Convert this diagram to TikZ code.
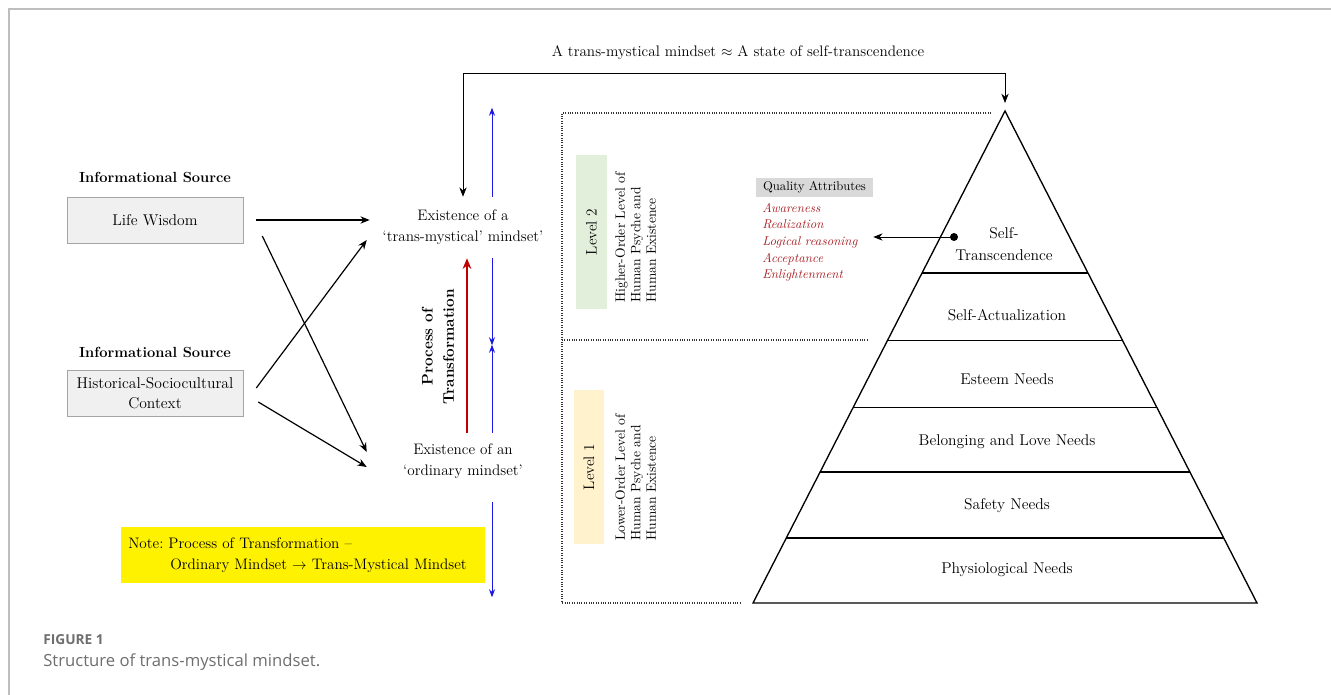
\documentclass[tikz,border=0pt]{standalone}
\usepackage{fontspec}
\newfontfamily\capfont{Open Sans}
\usepackage{tikz}
\usetikzlibrary{arrows.meta}
\usetikzlibrary{calc}
\usetikzlibrary{positioning}
\definecolor{srcgray}{RGB}{240,240,240}
\definecolor{srcline}{RGB}{165,165,165}
\definecolor{lvgreen}{RGB}{226,239,218}
\definecolor{lvyellow}{RGB}{255,242,204}
\definecolor{qagray}{RGB}{217,217,217}
\definecolor{attrred}{RGB}{170,30,35}
\definecolor{trred}{RGB}{192,0,0}
\definecolor{dirblue}{RGB}{25,25,225}
\definecolor{framegray}{RGB}{190,190,190}
\definecolor{capgray}{RGB}{110,110,110}
\tikzset{
  source/.style={draw=srcline, fill=srcgray, minimum width=132pt, minimum height=34.5pt, inner sep=0pt, align=center, font=\fontsize{11.7}{15}\selectfont},
  srctitle/.style={font=\fontsize{11}{13}\selectfont\bfseries},
  mindset/.style={minimum width=139.5pt, minimum height=45pt, inner sep=0pt, align=center, font=\fontsize{11.4}{15.75}\selectfont},
  link/.style={-{Stealth[length=7pt,width=5.5pt]}, line width=0.9pt},
  thinlink/.style={-{Stealth[length=7pt,width=5.5pt]}, line width=0.6pt},
  bluearr/.style={dirblue, -{Stealth[length=6pt,width=4.5pt]}, line width=0.7pt},
  levelbox/.style={rotate=90, minimum width=115.5pt, minimum height=23pt, inner sep=0pt, font=\fontsize{11.4}{13}\selectfont},
  leveltext/.style={rotate=90, anchor=north west, align=left, inner sep=0pt, font=\fontsize{10.2}{11.6}\selectfont},
  layer/.style={align=center, font=\fontsize{11.7}{17}\selectfont},
  dotline/.style={densely dotted, line width=0.8pt, black!80},
}
\begin{document}
\begin{tikzpicture}[x=0.75pt,y=-0.75pt]
  \useasboundingbox (0,0) rectangle (1331,695);
  \draw[framegray, line width=1.5pt] (9,695) -- (9,9) -- (1331,9);

  \node[srctitle] (st1) at (155,177) {Informational Source};
  \node[source] (lw) at (155,220) {Life Wisdom};
  \node[srctitle] (st2) at (155,352) {Informational Source};
  \node[source] (hist) at (155,393) {Historical-Sociocultural\\Context};

  \node[mindset] (tm) at (463,227) {Existence of a\\`trans-mystical' mindset'};
  \node[mindset] (ord) at (463,461) {Existence of an\\`ordinary mindset'};

  \draw[link] ($(lw.east)+(13,0)$) -- (lw.east -| tm.west);
  \draw[link] ($(lw.east)+(19,16)$) -- ($(ord.west)+(-3,-9)$);
  \draw[link] ($(hist.east)+(13,-5)$) -- ($(tm.west)+(-3,13)$);
  \draw[link] ($(hist.east)+(15,9)$) -- ($(ord.west)+(-3,6)$);

  \coordinate (apex) at (1005,111);
  \coordinate (bl) at (753,603);
  \coordinate (br) at (1257,603);
  \draw[{Stealth[length=7pt,width=5.5pt]}-{Stealth[length=7pt,width=5.5pt]}, line width=0.6pt]
    (tm.north) |- ($(apex)+(0,-38)$) -- ($(apex)+(0,-8)$);
  \node[font=\fontsize{11.4}{13}\selectfont] (topnote) at (738,53) {A trans-mystical mindset $\approx$ A state of self-transcendence};

  \draw[bluearr] ($(tm.north)+(29,0)$) -- ++(0,-89);
  \draw[bluearr] ($(tm.south)+(29,1)$) -- ++(0,87);
  \draw[bluearr] ($(ord.north)+(29,2)$) -- ++(0,-88);
  \draw[bluearr] ($(ord.south)+(29,11)$) -- ++(0,95);
  \draw[trred, line width=2pt, -{Stealth[length=8pt,width=6.5pt]}] ($(ord.north)+(4,2)$) -- ($(tm.south)+(4,1)$);
  \node[rotate=90, align=center, font=\fontsize{11.5}{16}\selectfont\bfseries] (proc) at (438,347) {Process of\\Transformation};

  \draw[dotline] (991,113) -- (562,113) -- (562,603) -- (742,603);
  \draw[dotline] (562,340) -- (867,340);
  \node[levelbox, fill=lvgreen] (lv2) at (591.5,232) {Level 2};
  \node[leveltext] (lv2t) at (615,303) {Higher-Order Level of\\Human Psyche and\\Human Existence};
  \node[levelbox, fill=lvyellow] (lv1) at (589,467) {Level 1};
  \node[leveltext] (lv1t) at (615,541) {Lower-Order Level of\\Human Psyche and\\Human Existence};

  \draw[line width=1pt] (apex) -- (bl) -- (br) -- cycle;
  \foreach \t in {0.329,0.467,0.602,0.734,0.868}
    \draw[line width=1pt] ($(apex)!\t!(bl)$) -- ($(apex)!\t!(br)$);
  \node[layer] (st) at (1004,244) {Self-\\Transcendence};
  \node[layer] (sa) at (1007,315) {Self-Actualization};
  \node[layer] (es) at (1007,379) {Esteem Needs};
  \node[layer] (bn) at (1007,442) {Belonging and Love Needs};
  \node[layer] (sf) at (1007,506) {Safety Needs};
  \node[layer] (ph) at (1007,570) {Physiological Needs};

  \node[fill=qagray, minimum width=87.75pt, minimum height=14.25pt, inner sep=0pt, font=\fontsize{9.5}{10}\selectfont] (qa) at (814.5,187.5) {Quality Attributes};
  \node[anchor=north west, align=left, inner sep=0pt, text=attrred, font=\fontsize{9.6}{12.4}\selectfont\itshape] (attr) at (762,203) {Awareness\\Realization\\Logical reasoning\\Acceptance\\Enlightenment};
  \coordinate (dot) at (954,237);
  \fill (dot) circle (4);
  \draw[thinlink] (dot) -- (dot -| qa.east);

  \node[anchor=north west, fill=yellow, text width=262.5pt, minimum height=42pt, inner xsep=5.25pt, inner ysep=4pt, align=left, font=\fontsize{11.4}{16}\selectfont] (note) at (121,527) {Note:\ Process of Transformation --\\\hspace*{31.5pt}Ordinary Mindset $\rightarrow$ Trans-Mystical Mindset};

  \node[anchor=west, inner sep=0pt, text=capgray, font=\capfont\fontsize{10.3}{12}\selectfont\bfseries] (fig) at (43,640) {FIGURE 1};
  \node[anchor=west, inner sep=0pt, text=capgray, font=\capfont\fontsize{12.5}{14}\selectfont] (cap) at (43,662) {Structure of trans-mystical mindset.};
\end{tikzpicture}
\end{document}
